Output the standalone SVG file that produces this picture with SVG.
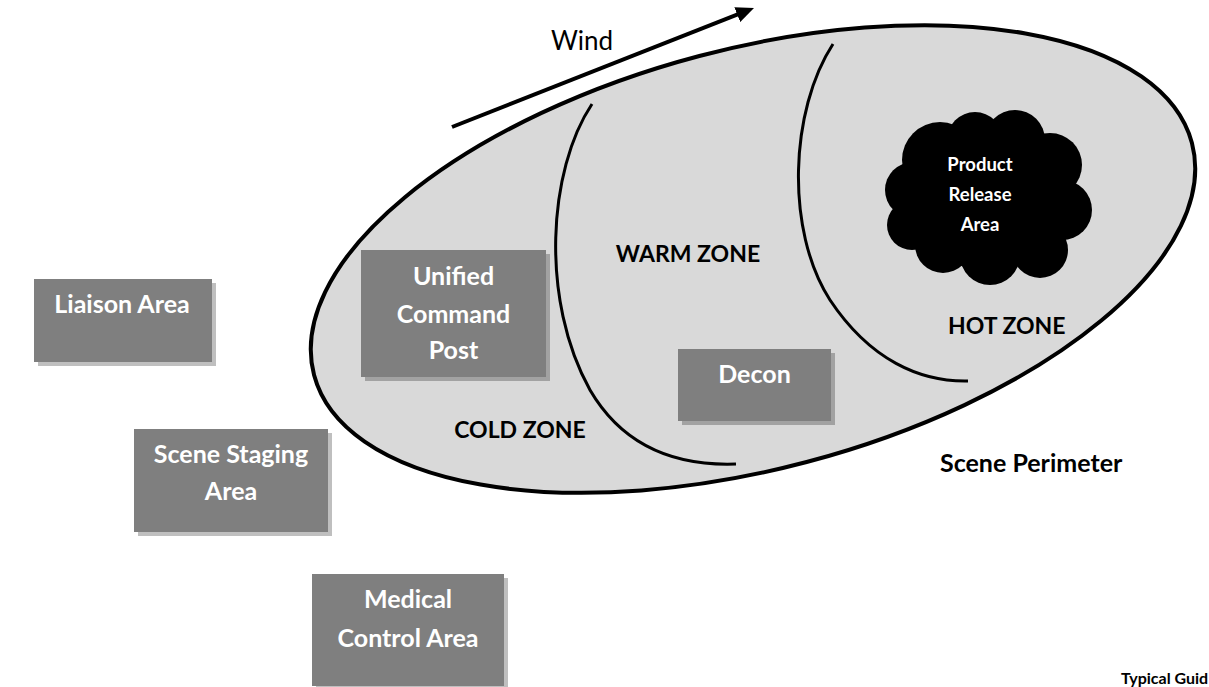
<svg xmlns="http://www.w3.org/2000/svg" width="1209" height="687" viewBox="0 0 1209 687">
  <style>
    .box { fill: #7f7f7f; }
    .shadow { fill: #000000; fill-opacity: 0.25; }
    .lbl { font-family: Lato, "Liberation Sans", sans-serif; font-weight: bold; font-size: 25px; }
    .caps { font-size: 23px; }
    .wt { fill: #ffffff; text-anchor: middle; }
    .bk { fill: #000000; }
    .zone { fill: none; stroke: #000000; stroke-width: 3; }
  </style>
  <defs>
    <marker id="ah" markerUnits="userSpaceOnUse" markerWidth="18" markerHeight="16" refX="8" refY="8" orient="auto">
      <path d="M0,0 L18,8 L0,16 Z" fill="#000000"/>
    </marker>
  </defs>
  <rect width="1209" height="687" fill="#ffffff"/>

  <g id="perimeter">
    <ellipse cx="753" cy="259" rx="454" ry="210" transform="rotate(-14.8 753 259)" fill="#d9d9d9" stroke="#000000" stroke-width="4"/>
  </g>

  <g id="zone-boundaries">
    <path class="zone" d="M592,104 C548,170 540,300 590,390 C625,450 680,466 736,464"/>
    <path class="zone" d="M833,44 C790,110 785,230 830,300 C870,360 920,382 968,381"/>
  </g>

  <g id="product-release">
    <g fill="#000000">
      <circle cx="985" cy="200" r="70"/>
      <circle cx="940" cy="160" r="38"/>
      <circle cx="975" cy="140" r="28"/>
      <circle cx="1015" cy="140" r="30"/>
      <circle cx="1050" cy="165" r="32"/>
      <circle cx="1062" cy="210" r="30"/>
      <circle cx="1040" cy="250" r="28"/>
      <circle cx="990" cy="255" r="30"/>
      <circle cx="943" cy="245" r="28"/>
      <circle cx="912" cy="225" r="25"/>
      <circle cx="913" cy="190" r="28"/>
    </g>
    <g class="lbl wt" style="font-size:18.5px">
      <text x="980" y="171">Product</text>
      <text x="980" y="201">Release</text>
      <text x="980" y="231">Area</text>
    </g>
  </g>

  <g id="liaison">
    <rect class="shadow" x="38" y="283" width="178" height="83"/>
    <rect class="box" x="34" y="279" width="178" height="83"/>
    <text class="lbl wt" x="122" y="313">Liaison Area</text>
  </g>

  <g id="command-post">
    <rect class="shadow" x="365" y="254" width="185" height="127"/>
    <rect class="box" x="361" y="250" width="185" height="127"/>
    <text class="lbl wt" x="453.5" y="285">Unified</text>
    <text class="lbl wt" x="453.5" y="323">Command</text>
    <text class="lbl wt" x="453.5" y="359">Post</text>
  </g>

  <g id="decon">
    <rect class="shadow" x="682" y="353" width="153" height="72"/>
    <rect class="box" x="678" y="349" width="153" height="72"/>
    <text class="lbl wt" x="754.5" y="383">Decon</text>
  </g>

  <g id="staging">
    <rect class="shadow" x="138" y="433" width="194" height="103"/>
    <rect class="box" x="134" y="429" width="194" height="103"/>
    <text class="lbl wt" x="231" y="463">Scene Staging</text>
    <text class="lbl wt" x="231" y="500">Area</text>
  </g>

  <g id="medical">
    <rect class="shadow" x="316" y="578" width="192" height="112"/>
    <rect class="box" x="312" y="574" width="192" height="112"/>
    <text class="lbl wt" x="408" y="608">Medical</text>
    <text class="lbl wt" x="408" y="647">Control Area</text>
  </g>

  <g id="zone-labels" class="lbl bk">
    <text class="caps" x="688" y="262" text-anchor="middle">WARM ZONE</text>
    <text class="caps" x="948" y="334">HOT ZONE</text>
    <text class="caps" x="520" y="438" text-anchor="middle">COLD ZONE</text>
    <text x="940" y="472">Scene Perimeter</text>
    <text x="1121" y="684" style="font-size:16px">Typical Guid</text>
  </g>

  <g id="connectors">
    <line x1="452" y1="127" x2="744.7" y2="11.7" stroke="#000000" stroke-width="4" marker-end="url(#ah)"/>
  </g>
  <g id="wind-label">
    <text x="582" y="50" text-anchor="middle" font-family="Lato, 'Liberation Sans', sans-serif" font-size="26" fill="#000000">Wind</text>
  </g>
</svg>
